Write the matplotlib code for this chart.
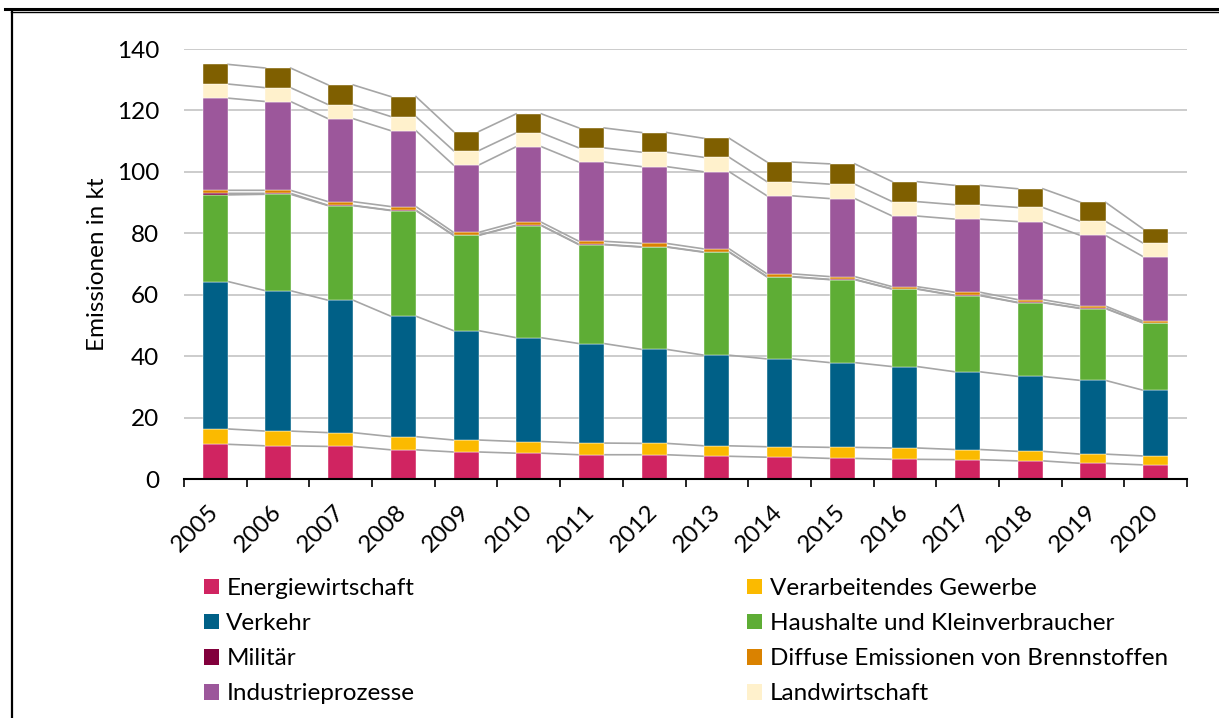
import numpy as np
import matplotlib
matplotlib.use("Agg")
import matplotlib.pyplot as plt
from matplotlib.lines import Line2D
from matplotlib.patches import Patch

plt.rcParams['font.family'] = ['Lato', 'DejaVu Sans']

# Emissionen je Sektor in kt, 2005-2020
jahre = [str(j) for j in range(2005, 2021)]

energie    = [11.3, 10.8, 10.6, 9.5, 8.8, 8.4, 7.9, 7.9, 7.4, 7.1, 6.7, 6.4, 6.3, 5.9, 5.1, 4.6]
verarb     = [5.0, 4.8, 4.5, 4.3, 3.9, 3.8, 3.8, 3.7, 3.4, 3.4, 3.6, 3.7, 3.3, 3.1, 3.0, 2.9]
verkehr    = [48.0, 45.7, 43.1, 39.2, 35.6, 33.8, 32.4, 30.6, 29.5, 28.6, 27.6, 26.5, 25.3, 24.4, 24.0, 21.4]
haushalte  = [28.2, 31.4, 30.8, 34.4, 31.0, 36.5, 32.2, 33.3, 33.5, 26.7, 27.0, 25.2, 24.8, 24.0, 23.4, 21.9]
militaer   = [0.5, 0.3, 0.1, 0.1, 0.1, 0.1, 0.1, 0.1, 0.1, 0.1, 0.1, 0.1, 0.1, 0.1, 0.1, 0.1]
diffuse    = [1.0, 1.0, 1.2, 1.2, 0.9, 1.0, 1.0, 1.1, 1.0, 0.9, 0.9, 0.7, 1.0, 0.9, 0.7, 0.5]
industrie  = [30.0, 28.9, 27.0, 24.7, 21.9, 24.6, 25.8, 25.0, 25.1, 25.4, 25.4, 23.0, 23.8, 25.4, 23.0, 21.0]
landwirt   = [4.6, 4.5, 4.6, 4.6, 4.7, 4.5, 4.6, 4.7, 4.7, 4.6, 4.7, 4.7, 4.7, 4.6, 4.6, 4.4]
abfall     = [6.4, 6.4, 6.4, 6.5, 6.2, 6.2, 6.5, 6.4, 6.2, 6.4, 6.6, 6.5, 6.3, 6.1, 6.2, 4.6]

sektoren = ["Energiewirtschaft", "Verarbeitendes Gewerbe", "Verkehr",
            "Haushalte und Kleinverbraucher", "Militär",
            "Diffuse Emissionen von Brennstoffen", "Industrieprozesse",
            "Landwirtschaft", "Abfallwirtschaft"]
werte = [energie, verarb, verkehr, haushalte, militaer, diffuse, industrie, landwirt, abfall]
farben = ['#D02461', '#FBBA00', '#006087', '#5EAD35', '#82003C',
          '#DA8200', '#9C579B', '#FFF1CC', '#7F5F00']

fs = 17.5

fig = plt.figure(figsize=(12.19, 7.18), dpi=100)
ax = fig.add_axes([184 / 1219, 1 - 479 / 718, 1003 / 1219, 430 / 718])

x = np.arange(len(jahre))
breite = 0.4
unten = np.zeros(len(jahre))
for name, w, f in zip(sektoren, werte, farben):
    w = np.array(w)
    ax.bar(x, w, breite, bottom=unten, color=f, label=name, zorder=3,
           edgecolor='white', linewidth=0.3)
    unten = unten + w
    # Verbindungslinien zwischen den Balken
    xs, ys = [], []
    for i in range(len(x) - 1):
        xs += [x[i] + breite / 2, x[i + 1] - breite / 2, np.nan]
        ys += [unten[i], unten[i + 1], np.nan]
    ax.plot(xs, ys, color='#A6A6A6', lw=1.2, zorder=2)

ax.set_xlim(-0.5, len(jahre) - 0.5)
ax.set_ylim(0, 140)
ax.set_yticks(range(0, 141, 20))
ax.yaxis.grid(True, color='#C4C4C4', lw=1.2, zorder=0)
ax.set_axisbelow(True)
for s in ['top', 'right', 'left']:
    ax.spines[s].set_visible(False)
ax.spines['bottom'].set_linewidth(1.5)
ax.spines['bottom'].set_zorder(4)

ax.set_xticks(x)
ax.set_xticklabels(jahre, rotation=45, ha='right', va='center',
                   rotation_mode='anchor', fontsize=fs)
ax.set_xticks(np.arange(-0.5, len(jahre), 1), minor=True)
ax.tick_params(axis='x', which='major', length=0, pad=21)
ax.tick_params(axis='x', which='minor', length=6, width=1.2, direction='out')
ax.tick_params(axis='y', length=0, pad=18, labelsize=fs)
ax.set_ylabel("Emissionen in kt", fontsize=fs, labelpad=6)

# Legende (zwei Spalten)
reihenfolge = [0, 2, 4, 6, 1, 3, 5, 7]
handles = [Patch(facecolor=farben[i], label=sektoren[i]) for i in reihenfolge]
fig.legend(handles=handles, ncol=2, loc='upper left',
           bbox_to_anchor=(204 / 1219, 1 - 578 / 718), frameon=False,
           fontsize=fs, handlelength=0.62, handleheight=0.62,
           handletextpad=0.3, labelspacing=0.58, columnspacing=13.7,
           borderpad=0, borderaxespad=0)

# Rahmen
fig.add_artist(Line2D([5 / 1219, 1], [1 - 8.8 / 718] * 2, color='black', lw=2.2))
fig.add_artist(Line2D([11 / 1219, 1], [1 - 11.8 / 718] * 2, color='black', lw=1.0))
fig.add_artist(Line2D([11.5 / 1219] * 2, [0, 1 - 11.8 / 718], color='black', lw=1.6))

fig.savefig("out.png", dpi=100)
